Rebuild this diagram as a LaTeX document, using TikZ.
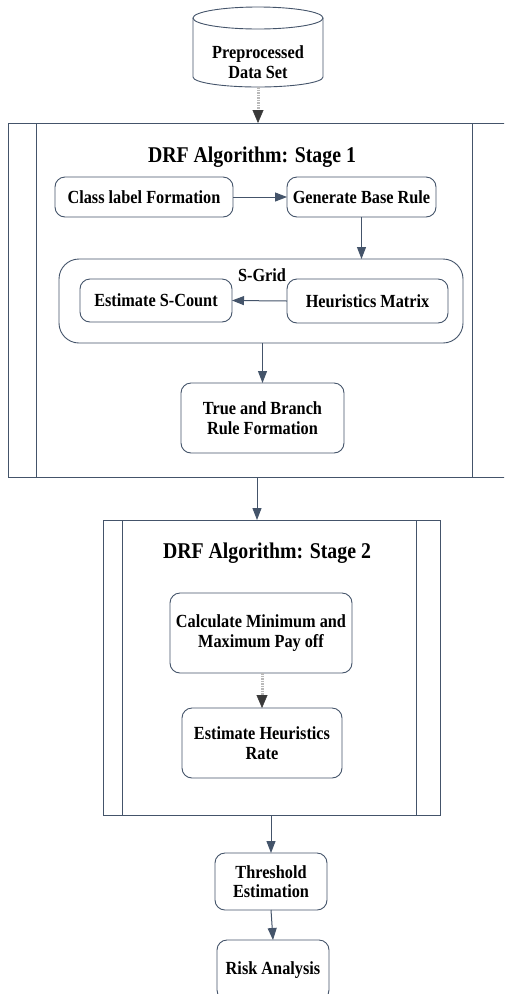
\documentclass[tikz,border=0pt]{standalone}
\usepackage{fontspec}
\setmainfont{Liberation Serif}[FakeStretch=0.88]
\usetikzlibrary{arrows.meta}
\definecolor{edge}{RGB}{68,84,106}
\begin{document}
\begin{tikzpicture}[x=1pt,y=-1pt,
  every node/.style={font=\fontsize{18.5}{19.5}\selectfont\bfseries,
    align=center, inner sep=0pt, outer sep=0pt},
  titletext/.style={font=\fontsize{22.5}{24}\selectfont\bfseries},
  procbox/.style={draw=edge, line width=0.9pt, rounded corners=10pt},
  gridbox/.style={draw=edge, line width=0.9pt, rounded corners=20pt},
  frame/.style={draw=edge, line width=1pt},
  flow/.style={draw=edge, line width=1pt, -{Triangle[length=12pt,width=9pt]}},
  grayflow/.style={draw=gray!55, line width=3pt, dash pattern=on 1.5pt off 1pt,
    -{Triangle[length=13pt,width=11pt,color=gray!45!black,fill=gray!45!black,line width=0.4pt]}}
]
\useasboundingbox (0,0) rectangle (504,994);
\clip (0,0) rectangle (504,994);
\fill[white] (0,0) rectangle (504,994);

% data store cylinder
\draw[edge, line width=0.9pt] (258,18) ellipse [x radius=65pt, y radius=11pt];
\draw[edge, line width=0.9pt] (193,18) -- (193,77)
  arc[start angle=180, end angle=360, x radius=65pt, y radius=10pt] -- (323,18);
\node (data) at (258,62) {Preprocessed\\Data Set};
\coordinate (cylbot) at (258,87);

% stage 1 frame (open on the right: it runs past the page edge)
\node[minimum width=502pt, minimum height=354pt] (s1) at (259,300) {};
\draw[frame] (s1.north east) -- (s1.north west) -- (s1.south west) -- (s1.south east);
\draw[frame] ([xshift=28pt]s1.north west) -- ([xshift=28pt]s1.south west);
\draw[frame] (472,123) -- (472,477);
\node[titletext] (t1) at (252,157) {DRF Algorithm: Stage 1};

\node[procbox, minimum width=178pt, minimum height=40pt] (clf) at (144,197) {Class label Formation};
\node[procbox, minimum width=149pt, minimum height=40pt] (gbr) at (361.5,197) {Generate Base Rule};

\node[gridbox, minimum width=404pt, minimum height=84pt] (sgrid) at (261,301) {};
\node (sglabel) at (262,275) {S-Grid};
\node[procbox, minimum width=152pt, minimum height=43pt] (esc) at (156,300.5) {Estimate S-Count};
\node[procbox, minimum width=161pt, minimum height=44pt] (hm) at (367.5,301) {Heuristics Matrix};

\node[procbox, minimum width=163pt, minimum height=70pt] (tbr) at (262.5,418) {True and Branch\\Rule Formation};

% stage 2 frame
\node[frame, minimum width=337pt, minimum height=295pt] (s2) at (271.5,667.5) {};
\draw[frame] ([xshift=19pt]s2.north west) -- ([xshift=19pt]s2.south west);
\draw[frame] ([xshift=-24pt]s2.north east) -- ([xshift=-24pt]s2.south east);
\node[titletext] (t2) at (267,553) {DRF Algorithm: Stage 2};

\node[procbox, minimum width=182pt, minimum height=80pt] (calc) at (261,633) {Calculate Minimum and\\Maximum Pay off};
\node[procbox, minimum width=160pt, minimum height=70pt] (ehr) at (262,743) {Estimate Heuristics\\Rate};

\node[procbox, minimum width=112pt, minimum height=57pt] (thr) at (271,881.5) {Threshold\\Estimation};
\node[procbox, minimum width=112pt, minimum height=60pt] (risk) at (273,970) {Risk Analysis};

% connectors
\coordinate (j1) at (257,477);
\draw[grayflow] (cylbot) -- (cylbot |- s1.north);
\draw[flow] (clf.east) -- (gbr.west);
\draw[flow] (gbr.south) -- (gbr.south |- sgrid.north);
\draw[flow] (hm.west) -- (esc.east);
\draw[flow] (sgrid.south -| tbr.north) -- (tbr.north);
\draw[flow] (j1) -- (j1 |- s2.north);
\draw[grayflow] (calc.south -| ehr.north) -- (ehr.north);
\draw[flow] (s2.south -| thr.north) -- (thr.north);
\draw[flow] (thr.south) -- (risk.north);
\end{tikzpicture}
\end{document}
